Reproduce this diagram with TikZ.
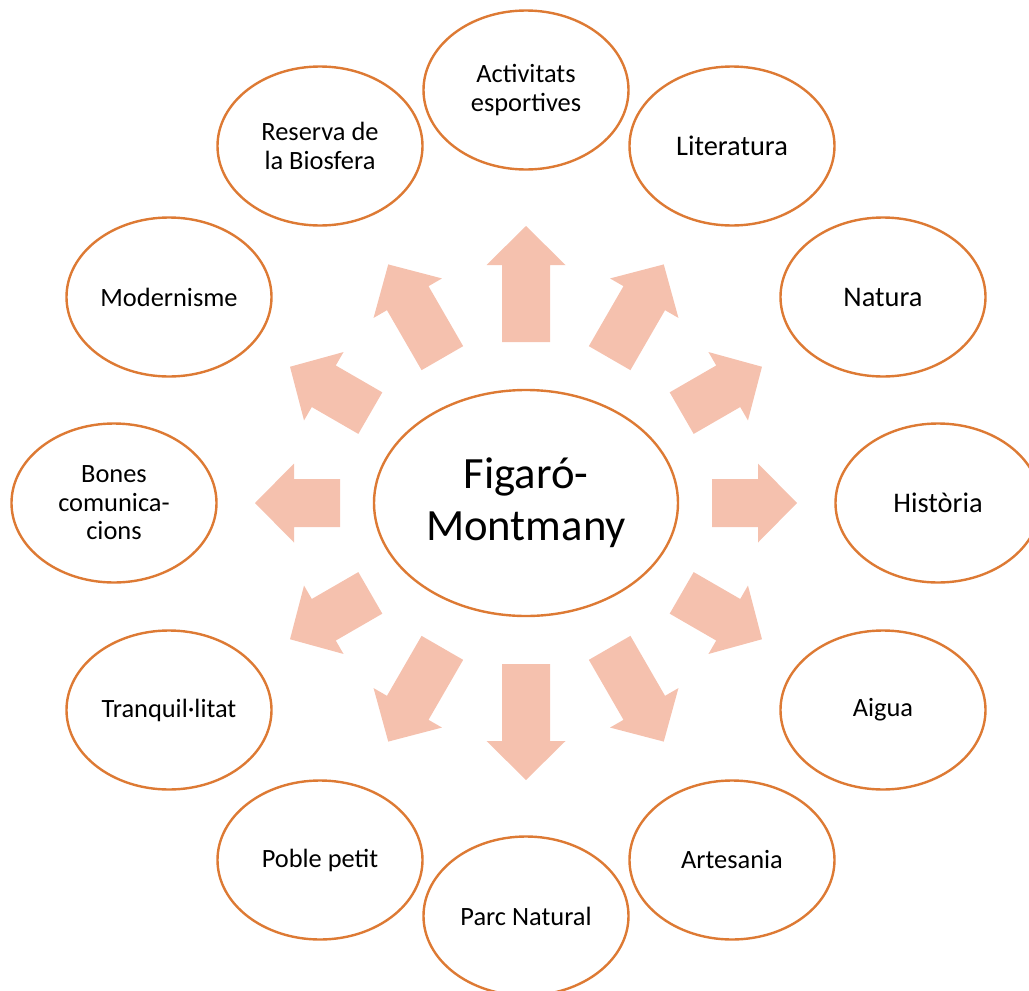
\documentclass[tikz,border=0pt]{standalone}
\usepackage{fontspec}
\setmainfont{Carlito}
\usetikzlibrary{calc,shapes.geometric}
\definecolor{ringline}{RGB}{221,122,52}
\definecolor{arrowfill}{RGB}{245,193,174}
\begin{document}
\begin{tikzpicture}[x=1pt,y=-1pt,
  bubble/.style={ellipse,draw=ringline,line width=2.4pt,fill=white,
    minimum width=205pt,minimum height=159pt,inner sep=0pt,align=center,
    font=\fontsize{26.4}{28.5}\selectfont},
  bigbubble/.style={bubble,font=\fontsize{28.4}{30}\selectfont},
  hub/.style={ellipse,draw=ringline,line width=2.4pt,fill=white,
    minimum width=304pt,minimum height=226pt,inner sep=0pt,align=center,
    font=\fontsize{44.7}{52}\selectfont},
  blockarrow/.style={fill=arrowfill,draw=none}]
\useasboundingbox (0,0) rectangle (1029,991);
\coordinate (C) at (526,503);
% block arrows
\foreach \a in {0,30,...,330}{
  \pgfmathsetmacro{\rs}{186-25*sin(\a)^2}
  \pgfmathsetmacro{\rt}{271+6*sin(\a)^2}
  \pgfmathsetmacro{\rn}{\rt-39}
  \fill[blockarrow]
    ($(C)+(\a:\rs)+(\a+90:24)$) --
    ($(C)+(\a:\rn)+(\a+90:24)$) --
    ($(C)+(\a:\rn)+(\a+90:39.5)$) --
    ($(C)+(\a:\rt)$) --
    ($(C)+(\a:\rn)+(\a-90:39.5)$) --
    ($(C)+(\a:\rn)+(\a-90:24)$) --
    ($(C)+(\a:\rs)+(\a-90:24)$) -- cycle;
}
\node[hub] (center) at (C) {Figaró-\\Montmany};
\node[bubble] (act) at (526,90) {Activitats\\esportives};
\node[bigbubble] (lit) at (732,146) {Literatura};
\node[bigbubble] (nat) at (883,297) {Natura};
\node[bigbubble] (his) at (938,503) {Història};
\node[bubble] (aig) at (883,710) {Aigua};
\node[bubble] (art) at (732,860) {Artesania};
\node[bubble] (parc) at (526,916) {Parc Natural};
\node[bubble] (pob) at (320,860) {Poble petit};
\node[bubble] (tra) at (169,710) {Tranquil·litat};
\node[bubble] (bon) at (114,503) {Bones\\comunica-\\cions};
\node[bubble] (mod) at (169,297) {Modernisme};
\node[bubble] (res) at (320,146) {Reserva de\\la Biosfera};
\end{tikzpicture}
\end{document}
